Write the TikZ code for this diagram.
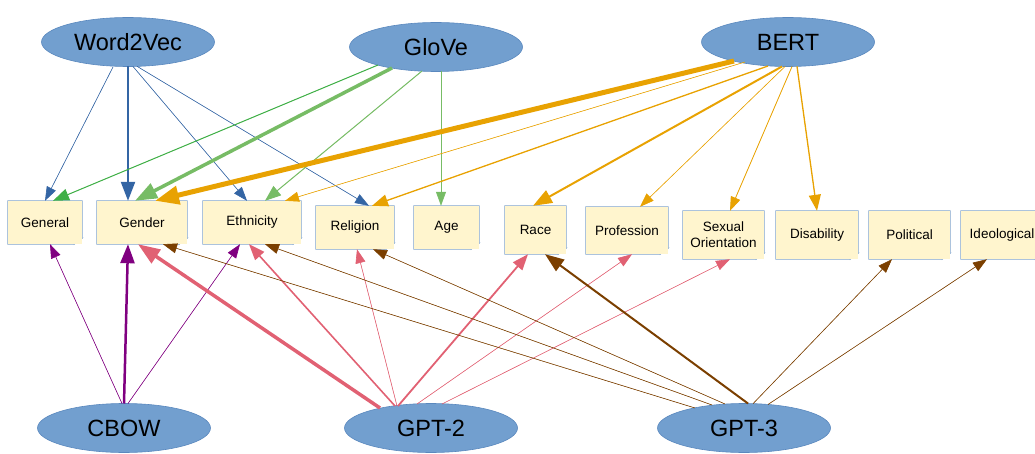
\documentclass[tikz,border=0pt]{standalone}
\usepackage{fontspec}
\setmainfont{Liberation Sans}
\usetikzlibrary{arrows.meta,shapes.geometric,calc}

\definecolor{modelfill}{HTML}{729FCF}
\definecolor{modelline}{HTML}{5A88BE}
\definecolor{notefill}{HTML}{FFF5CE}
\definecolor{noteline}{HTML}{7FA3CB}
\definecolor{foldfill}{HTML}{B8C4D0}
\definecolor{cw2v}{HTML}{3465A4}
\definecolor{cglove}{HTML}{77BC65}
\definecolor{cglovedark}{HTML}{3FAF46}
\definecolor{cbert}{HTML}{E8A202}
\definecolor{ccbow}{HTML}{800080}
\definecolor{cgpttwo}{HTML}{E16173}
\definecolor{cgptthree}{HTML}{7B3F00}

\tikzset{
  model/.style={ellipse, fill=modelfill, draw=modelline, line width=0.6pt,
    minimum width=173pt, minimum height=49pt, inner sep=0pt,
    font=\fontsize{23.5}{26}\selectfont},
  note/.style={rectangle, fill=notefill, inner sep=0pt, align=center,
    font=\fontsize{13.5}{16}\selectfont,
    append after command={\pgfextra{
      \fill[white] ([yshift=6pt]\tikzlastnode.south east) -- (\tikzlastnode.south east)
        -- ([xshift=-8pt]\tikzlastnode.south east) -- cycle;
      \draw[noteline, line width=0.9pt, line join=miter]
        (\tikzlastnode.north west) -- (\tikzlastnode.north east)
        -- ([yshift=6pt]\tikzlastnode.south east) -- ([xshift=-8pt]\tikzlastnode.south east)
        -- (\tikzlastnode.south west) -- cycle;
      \filldraw[fill=foldfill, draw=noteline, line width=0.5pt]
        ([yshift=6pt]\tikzlastnode.south east) -- ([xshift=-8pt]\tikzlastnode.south east)
        -- ([xshift=-6pt,yshift=4pt]\tikzlastnode.south east) -- cycle;
    }}},
  lwa/.style={line width=0.6pt, -{Triangle[length=14pt,width=10pt]}},
  lwb/.style={line width=1.3pt, -{Triangle[length=16pt,width=12pt]}},
  lwc/.style={line width=2.2pt, -{Triangle[length=19pt,width=14pt]}},
  lwd/.style={line width=3.5pt, -{Triangle[length=22pt,width=16pt]}},
  lwe/.style={line width=5pt, -{Triangle[length=24pt,width=18pt]}},
  ew2v/.style={draw=cw2v, fill=cw2v},
  eglove/.style={draw=cglove, fill=cglove},
  eglovedark/.style={draw=cglovedark, fill=cglovedark},
  ebert/.style={draw=cbert, fill=cbert},
  ecbow/.style={draw=ccbow, fill=ccbow},
  egpttwo/.style={draw=cgpttwo, fill=cgpttwo},
  egptthree/.style={draw=cgptthree, fill=cgptthree},
}

\begin{document}
\begin{tikzpicture}[x=1pt,y=-1pt]
\useasboundingbox (0,0) rectangle (1035,454);

% embedding models
\node[model] (w2v)   at (128,42)  {Word2Vec};
\node[model] (glove) at (436,47)  {GloVe};
\node[model] (bert)  at (788,42)  {BERT};
\node[model] (cbow)  at (124,428) {CBOW};
\node[model] (gpt2)  at (431,428) {GPT-2};
\node[model] (gpt3)  at (744,428) {GPT-3};

% bias categories
\node[note, minimum width=74pt, minimum height=43pt] (general)   at (45,222.5)   {General};
\node[note, minimum width=90pt, minimum height=43pt] (gender)    at (142,222.5)  {Gender};
\node[note, minimum width=98pt, minimum height=43pt] (ethnicity) at (252,222.5)  {Ethnicity};
\node[note, minimum width=78pt, minimum height=43pt] (religion)  at (355,227.5)  {Religion};
\node[note, minimum width=65pt, minimum height=43pt] (age)       at (446.5,227.5){Age};
\node[note, minimum width=61pt, minimum height=48pt] (race)      at (535.5,230)  {Race};
\node[note, minimum width=82pt, minimum height=47pt] (profession) at (627,230.5) {Profession};
\node[note, minimum width=81pt, minimum height=48pt] (sexor)     at (723.5,235)  {Sexual\\Orientation};
\node[note, minimum width=82pt, minimum height=48pt] (disability) at (817,235)   {Disability};
\node[note, minimum width=81pt, minimum height=48pt] (political) at (909.5,235)  {Political};
\node[note, minimum width=82pt, minimum height=48pt] (ideological) at (1002,235) {Ideological};

% Word2Vec
\draw[ew2v, lwa] ($(w2v)+(-15,25)$) -- (general.north);
\draw[ew2v, lwc] ($(w2v)+(0,24.5)$) -- ([xshift=-14pt]gender.north);
\draw[ew2v, lwa] ($(w2v)+(5,24.5)$) -- ([xshift=-5pt]ethnicity.north);
\draw[ew2v, lwa] ($(w2v)+(9,24.3)$) -- ([xshift=14pt]religion.north);

% GloVe
\draw[eglovedark, lwb, line width=1pt] ($(glove)+(-58,18)$) -- ([xshift=8pt]general.north);
\draw[eglove, lwd] ($(glove)+(-44,21)$) -- ([xshift=-7pt]gender.north);
\draw[eglove, lwb, line width=1pt] ($(glove)+(-14,24)$) -- ([xshift=13pt]ethnicity.north);
\draw[eglove, lwa] ($(glove)+(5,24.5)$) -- ([xshift=-5.5pt]age.north);

% BERT
\draw[ebert, lwe] ($(bert)+(-54,19)$) -- ([xshift=13pt]gender.north);
\draw[ebert, lwa] ($(bert)+(-43,20)$) -- ([xshift=33pt]ethnicity.north);
\draw[ebert, lwb] ($(bert)+(-20,24)$) -- ([xshift=17pt]religion.north);
\draw[ebert, lwc, line width=2pt] ($(bert)+(-6,24.5)$) -- ([xshift=-2.5pt]race.north);
\draw[ebert, lwa] ($(bert)+(-3,24.5)$) -- ([xshift=13pt]profession.north);
\draw[ebert, lwa, line width=0.8pt] ($(bert)+(4,24.5)$) -- ([xshift=6.5pt]sexor.north);
\draw[ebert, lwb] ($(bert)+(9,24.3)$) -- (disability.north);

% CBOW
\draw[ecbow, lwa] ($(cbow)+(-2,-24.5)$) -- ([xshift=5pt]general.south);
\draw[ecbow, lwc, line width=2.5pt] ($(cbow)+(0,-24.5)$) -- ([xshift=-14pt]gender.south);
\draw[ecbow, lwa] ($(cbow)+(4,-24.5)$) -- ([xshift=-12pt]ethnicity.south);

% GPT-2
\draw[egpttwo, lwd] ($(gpt2)+(-51,-20)$) -- ([xshift=-4pt]gender.south);
\draw[egpttwo, lwb, line width=1.6pt] ($(gpt2)+(-36,-22)$) -- ([xshift=-3pt]ethnicity.south);
\draw[egpttwo, lwa] ($(gpt2)+(-34,-22)$) -- ([xshift=2pt]religion.south);
\draw[egpttwo, lwb, line width=1.8pt] ($(gpt2)+(-33,-22)$) -- ([xshift=-7.5pt]race.south);
\draw[egpttwo, lwa] ($(gpt2)+(-14,-24)$) -- ([xshift=5pt]profession.south);
\draw[egpttwo, lwa] ($(gpt2)+(11,-24)$) -- ([xshift=6.5pt]sexor.south);

% GPT-3
\draw[egptthree, lwa] ($(gpt3)+(-49,-20)$) -- ([xshift=21pt]gender.south);
\draw[egptthree, lwa] ($(gpt3)+(-32,-23)$) -- ([xshift=13pt]ethnicity.south);
\draw[egptthree, lwa] ($(gpt3)+(-19,-24)$) -- ([xshift=18pt]religion.south);
\draw[egptthree, lwc, line width=2pt] ($(gpt3)+(4,-24.5)$) -- ([xshift=9.5pt]race.south);
\draw[egptthree, lwa] ($(gpt3)+(9,-24.3)$) -- ([xshift=-17.5pt]political.south);
\draw[egptthree, lwa] ($(gpt3)+(24,-23.5)$) -- ([xshift=-15pt]ideological.south);
\end{tikzpicture}
\end{document}
